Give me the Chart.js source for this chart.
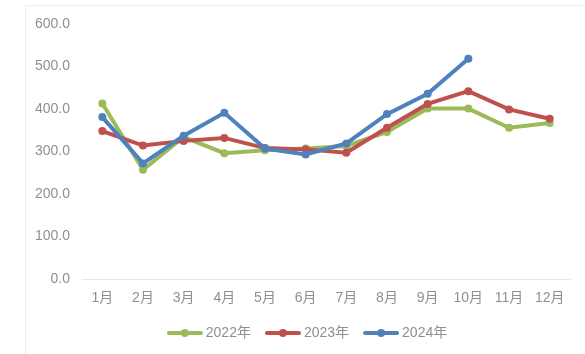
<!DOCTYPE html>
<html>
<head>
<meta charset="utf-8">
<script src="https://cdn.jsdelivr.net/npm/chart.js@4.4.1/dist/chart.umd.min.js"></script>
<style>
  html, body { margin: 0; padding: 0; background: #fff; }
  #wrap { width: 585px; height: 354px; }
</style>
</head>
<body>
<div id="wrap"><canvas id="chart"></canvas></div>
<script>
var months = ["1月", "2月", "3月", "4月", "5月", "6月", "7月", "8月", "9月", "10月", "11月", "12月"];
var seriesNames = ["2022年", "2023年", "2024年"];
var v2022 = [413, 257, 334, 296, 303, 307, 313, 346, 401, 401, 356, 367];
var v2023 = [348, 314, 325, 332, 308, 305, 297, 356, 412, 442, 399, 377];
var v2024 = [381, 272, 337, 391, 307, 293, 319, 388, 436, 518];
var colors = ["#9BBB59", "#C0504D", "#4F81BD"];

var fontFamily = "'Liberation Sans', Arial, 'Noto Sans CJK SC', sans-serif";
var textColor = "#8f8f8f";

// legend marker: short thick line with a dot in the middle
function legendMarker(color) {
    var c = document.createElement("canvas");
    c.width = 36;
    c.height = 10;
    var ctx = c.getContext("2d");
    ctx.strokeStyle = color;
    ctx.lineWidth = 4;
    ctx.lineCap = "round";
    ctx.beginPath();
    ctx.moveTo(2, 5);
    ctx.lineTo(34, 5);
    ctx.stroke();
    ctx.fillStyle = color;
    ctx.beginPath();
    ctx.arc(18, 5, 4, 0, Math.PI * 2);
    ctx.fill();
    return c;
}

// faint outer frame + nudge legend to the right like the original
var framePlugin = {
    id: "frame",
    afterLayout: function(chart) {
        chart.legend.left += 24;
        chart.legend.right += 24;
    },
    beforeDraw: function(chart) {
        var ctx = chart.ctx;
        ctx.save();
        ctx.strokeStyle = "#ececec";
        ctx.lineWidth = 1;
        ctx.strokeRect(25.5, 5.5, chart.width + 10, chart.height + 10);
        ctx.restore();
    }
};

function makeSet(i, values, order) {
    return {
        label: seriesNames[i],
        data: values,
        borderColor: colors[i],
        backgroundColor: colors[i],
        borderWidth: 4,
        pointRadius: 4,
        pointHoverRadius: 4,
        pointBackgroundColor: colors[i],
        pointBorderWidth: 0,
        pointStyle: "circle",
        tension: 0,
        order: order
    };
}

var sets = [makeSet(0, v2022, 3), makeSet(1, v2023, 2), makeSet(2, v2024, 1)];

new Chart(document.getElementById("chart"), {
    type: "line",
    data: { labels: months, datasets: sets },
    plugins: [framePlugin],
    options: {
        responsive: true,
        maintainAspectRatio: false,
        animation: false,
        layout: { padding: { left: 0, right: 15, top: 24, bottom: 4 } },
        scales: {
            x: {
                offset: true,
                grid: { display: false },
                border: { display: true, color: "#e8e8e8", width: 1 },
                ticks: { color: textColor, padding: 3, font: { family: fontFamily, size: 14 } },
                afterFit: function(scale) { scale.height = 29; }
            },
            y: {
                min: 0,
                max: 600,
                grid: { display: false },
                border: { display: false },
                ticks: {
                    stepSize: 100,
                    color: textColor,
                    padding: 4,
                    font: { family: fontFamily, size: 14 },
                    callback: function(v) { return Number(v).toFixed(1); }
                },
                afterFit: function(scale) { scale.width = 82; }
            }
        },
        plugins: {
            tooltip: { enabled: false },
            legend: {
                position: "bottom",
                labels: {
                    usePointStyle: true,
                    pointStyleWidth: 28,
                    padding: 18,
                    color: textColor,
                    font: { family: fontFamily, size: 14 },
                    generateLabels: function(chart) {
                        return chart.data.datasets.map(function(ds, i) {
                            return {
                                text: ds.label,
                                fillStyle: colors[i],
                                strokeStyle: colors[i],
                                lineWidth: 0,
                                pointStyle: legendMarker(colors[i]),
                                fontColor: textColor,
                                hidden: false,
                                datasetIndex: i
                            };
                        });
                    }
                }
            }
        }
    }
});
</script>
</body>
</html>
